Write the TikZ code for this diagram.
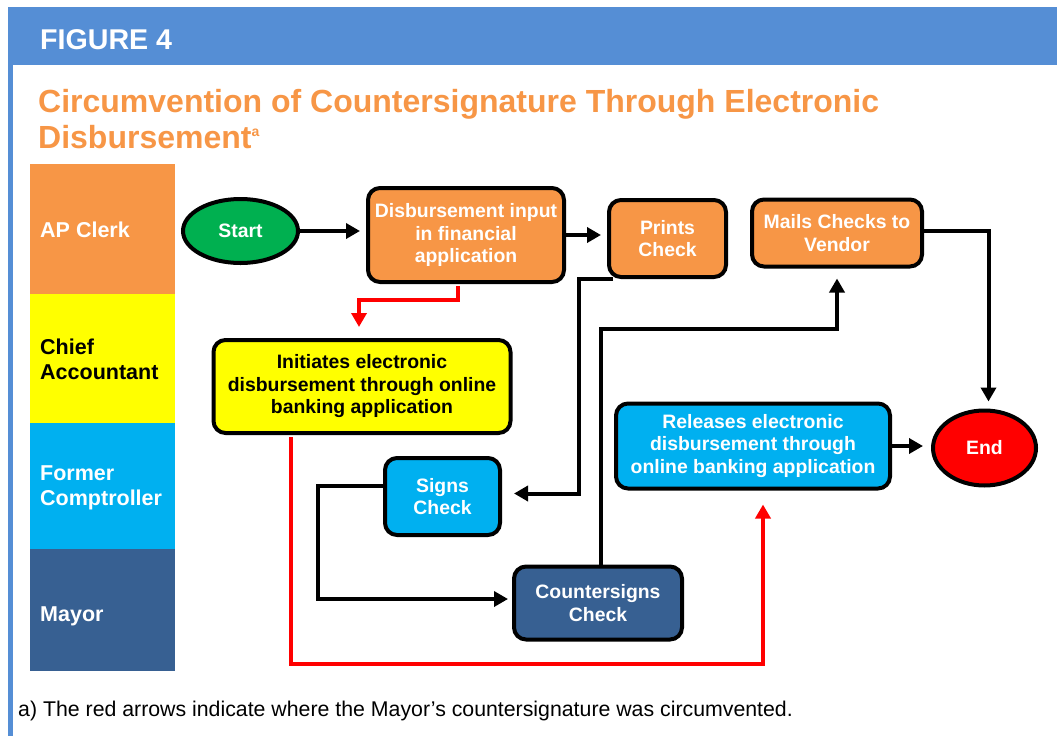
\documentclass[tikz,border=0pt]{standalone}
\usepackage{fontspec}
\setmainfont{Liberation Sans}
\usetikzlibrary{arrows.meta,shapes.geometric}
\definecolor{figblue}{HTML}{558ED5}
\definecolor{clerk}{HTML}{F79646}
\definecolor{chief}{HTML}{FFFF00}
\definecolor{compt}{HTML}{00B0F0}
\definecolor{mayor}{HTML}{376092}
\definecolor{startgreen}{HTML}{00B050}

\begin{document}
\begin{tikzpicture}[x=1pt,y=-1pt,
    box/.style={draw,line width=4pt,rounded corners=12pt,inner sep=0pt,align=center,
      font=\fontsize{19.4}{22.5}\selectfont\bfseries,text=white},
    term/.style={ellipse,draw,line width=4pt,inner sep=0pt,
      font=\fontsize{19.4}{22.5}\selectfont\bfseries,text=white},
    lane/.style={anchor=base west,inner sep=0pt,align=left,
      font=\fontsize{21.5}{24.7}\selectfont\bfseries},
    flow/.style={line width=4pt,-{Triangle[length=14pt,width=15pt]}},
    redflow/.style={flow,red}]
  \useasboundingbox (0,0) rectangle (1057,736);
  \fill[figblue] (8,7) rectangle (1057,65);
  \draw[figblue,line width=4.5pt] (10.5,7) -- (10.5,736);
  \node[anchor=base west,inner sep=0pt,text=white,font=\fontsize{28.6}{34}\selectfont\bfseries] (fig) at (40,49) {FIGURE 4};
  \node[anchor=base west,inner sep=0pt,text=clerk,align=left,font=\fontsize{32}{36}\selectfont\bfseries] (title) at (38,148)
    {Circumvention of Countersignature Through Electronic\\Disbursement\raisebox{12pt}{\fontsize{14}{14}\selectfont a}};

  % swim lanes
  \fill[clerk] (30,164) rectangle (175,294);
  \fill[chief] (30,294) rectangle (175,423);
  \fill[compt] (30,423) rectangle (175,549);
  \fill[mayor] (30,549) rectangle (175,671);
  \node[lane,text=white] (lclerk) at (40,237) {AP Clerk};
  \node[lane] (lchief) at (40,379) {Chief\\Accountant};
  \node[lane,text=white] (lcompt) at (40,505) {Former\\Comptroller};
  \node[lane,text=white] (lmayor) at (40,621) {Mayor};

  \node[term,fill=startgreen,minimum width=115pt,minimum height=64pt] (start) at (240.5,231) {Start};
  \node[box,fill=clerk,minimum width=196pt,minimum height=94pt] (din) at (466,235) {Disbursement input\\in financial\\application};
  \node[box,fill=clerk,minimum width=117pt,minimum height=77pt] (prints) at (667.5,238.5) {Prints\\Check};
  \node[box,fill=clerk,minimum width=170pt,minimum height=67pt] (mails) at (837,233) {Mails Checks to\\Vendor};
  \node[box,fill=chief,text=black,minimum width=297pt,minimum height=93pt] (init) at (362,386.5)
    {Initiates electronic\\disbursement through online\\banking application};
  \node[box,fill=compt,minimum width=274pt,minimum height=85pt] (rel) at (753,446)
    {Releases electronic\\disbursement through\\online banking application};
  \node[term,fill=red,minimum width=103pt,minimum height=75pt] (end) at (984.5,448) {End};
  \node[box,fill=compt,minimum width=115pt,minimum height=77pt] (signs) at (442.5,496.5) {Signs\\Check};
  \node[box,fill=mayor,minimum width=168pt,minimum height=73pt] (csig) at (598,603) {Countersigns\\Check};

  \draw[flow,shorten >=6pt] (start) -- (start -| din.west);
  \draw[flow,shorten >=6pt] (din.east) -- (din.east -| prints.west);
  \draw[redflow,shorten >=11pt] ([xshift=-8pt,yshift=-2pt]din.south) -- ++(0,14) -| ([xshift=-3pt]init.north);
  \draw[flow,shorten >=12pt] ([xshift=6pt]prints.south west) -- ++(-34,0) |- ([yshift=3pt]signs.east);
  \draw[flow,shorten >=4pt] ([yshift=11pt]signs.west) -- ++(-65,0) |- ([yshift=4pt]csig.west);
  \draw[flow,shorten >=10pt] ([xshift=3pt]csig.north) -- ++(0,-236) -| (mails.south);
  \draw[flow,shorten >=7pt] ([yshift=2pt]mails.east) -| ([xshift=4pt]end.north);
  \draw[flow,shorten >=8pt] (rel.east) -- (rel.east -| end.west);
  \draw[redflow,shorten >=14pt] ([xshift=-71pt,yshift=-2pt]init.south) -- ++(0,227) -| ([xshift=10pt]rel.south);

  \node[anchor=base west,inner sep=0pt,font=\fontsize{21.3}{24}\selectfont] (note) at (18,716)
    {a) The red arrows indicate where the Mayor’s countersignature was circumvented.};
\end{tikzpicture}
\end{document}
